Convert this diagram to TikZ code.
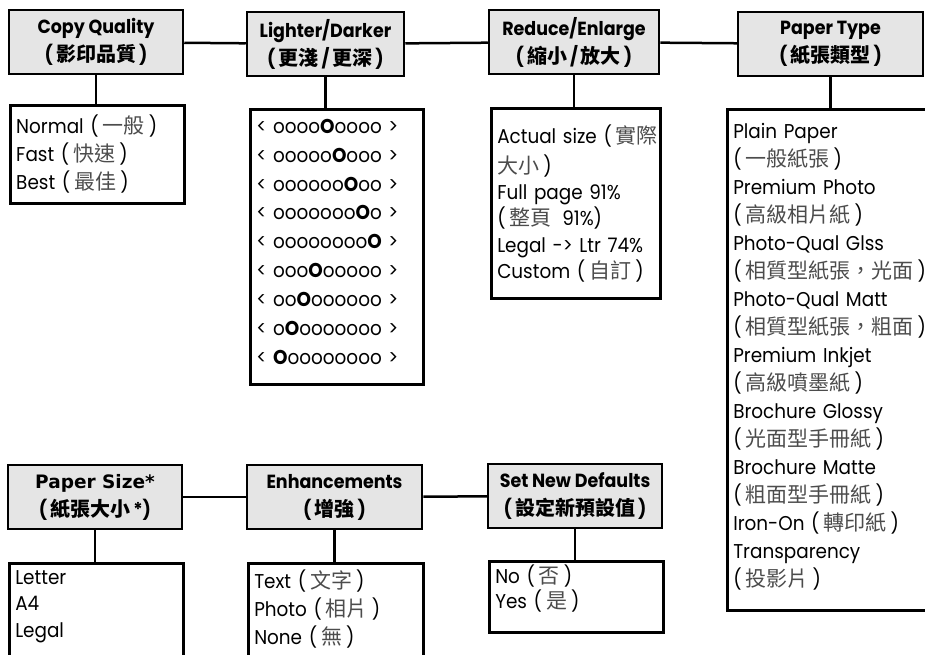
\documentclass[tikz,border=0pt]{standalone}
\usepackage{fontspec}
\setmainfont{Poppins}[FakeStretch=0.92]
\newfontfamily\cjk{Noto Sans CJK TC}
\newfontfamily\altbold{DejaVu Sans}
\usetikzlibrary{positioning}
\definecolor{headfill}{gray}{0.9}
\definecolor{zhgray}{gray}{0.3}
\newcommand{\zh}[1]{{\kern3pt\cjk\fontsize{20}{20}\selectfont #1\kern3pt}}
\newcommand{\zhl}[1]{{\kern4pt\cjk\fontsize{21}{21}\selectfont\color{zhgray}#1\kern4pt}}
\newcommand{\bigO}{{\bfseries O}}
\tikzset{
  headbox/.style={draw, line width=2.5pt, fill=headfill, minimum width=#1,
    minimum height=64pt, align=center, inner sep=0pt,
    font=\fontsize{19}{28}\selectfont\bfseries},
  listbox/.style={draw, line width=2.5pt, anchor=north west, align=left,
    text width=#1, inner xsep=6pt, inner ysep=0pt},
  link/.style={line width=2.5pt}
}
\begin{document}
\begin{tikzpicture}[x=1pt, y=-1pt]
  \useasboundingbox (0,0) rectangle (925,654);
  % Top row of menu headings
  \node[headbox=174pt] (cq) at (96,42) {Copy Quality\\(\zh{影印品質})};
  \node[headbox=157pt] (ld) at (325.5,44) {Lighter/Darker\\(\zh{更淺}/\zh{更深})};
  \node[headbox=170pt] (re) at (574,42) {Reduce/Enlarge\\(\zh{縮小}/\zh{放大})};
  \node[headbox=185pt] (pt) at (830.5,44) {Paper Type\\(\zh{紙張類型})};
  % Bottom row of menu headings
  \node[headbox=174pt] (ps) at (95,497)
    {{\altbold\fontsize{18.5}{28}\selectfont Paper Size*}\\(\zh{紙張大小}*)};
  \node[headbox=175pt] (en) at (334.5,497) {Enhancements\\(\zh{增強})};
  \node[headbox=174pt] (sd) at (575,496) {Set New Defaults\\(\zh{設定新預設值})};
  % Option lists
  \node[listbox=162pt, text height=28pt, text depth=70pt,
    font=\fontsize{20}{28}\selectfont] (cqlist) at (9,104)
    {Normal (\zhl{一般})\\Fast (\zhl{快速})\\Best (\zhl{最佳})};
  \node[listbox=161pt, text height=24pt, text depth=251pt,
    font=\fontsize{20}{28.9}\selectfont] (ldlist) at (249,108)
    {< oooo\bigO oooo >\\< ooooo\bigO ooo >\\< oooooo\bigO oo >\\
     < ooooooo\bigO o >\\< oooooooo\bigO{} >\\< ooo\bigO ooooo >\\
     < oo\bigO oooooo >\\< o\bigO ooooooo >\\< \bigO oooooooo >};
  \node[listbox=157pt, text height=35pt, text depth=155pt,
    font=\fontsize{20}{26.2}\selectfont] (relist) at (490,107)
    {\mbox{Actual size (\zhl{實際}}\\\zhl{大小})\\Full page 91\%\\(\zhl{整頁} 91\%)\\
     Legal -> Ltr 74\%\\Custom (\zhl{自訂})};
  \node[listbox=240pt, text height=29pt, text depth=472pt,
    font=\fontsize{20}{28}\selectfont] (ptlist) at (726,108)
    {Plain Paper\\(\zhl{一般紙張})\\Premium Photo\\(\zhl{高級相片紙})\\
     Photo-Qual Glss\\(\zhl{相質型紙張，光面})\\Photo-Qual Matt\\(\zhl{相質型紙張，粗面})\\
     Premium Inkjet\\(\zhl{高級噴墨紙})\\Brochure Glossy\\(\zhl{光面型手冊紙})\\
     Brochure Matte\\(\zhl{粗面型手冊紙})\\Iron-On (\zhl{轉印紙})\\
     Transparency\\(\zhl{投影片})};
  \node[listbox=162pt, text height=21pt, text depth=100pt,
    font=\fontsize{20}{26.5}\selectfont] (pslist) at (8,562)
    {Letter\\A4\\Legal};
  \node[listbox=163pt, text height=25pt, text depth=100pt,
    font=\fontsize{20}{28}\selectfont] (enlist) at (247,562)
    {Text (\zhl{文字})\\Photo (\zhl{相片})\\None (\zhl{無})};
  \node[listbox=162pt, text height=22pt, text depth=49pt,
    font=\fontsize{20}{25}\selectfont] (sdlist) at (488,560)
    {No (\zhl{否})\\Yes (\zhl{是})};
  % Links between headings
  \draw[link] (cq) -- (ld);
  \draw[link] (ld) -- (re);
  \draw[link] (re) -- (pt);
  \draw[link] (ps) -- (en);
  \draw[link] (en) -- (sd);
  % Stems from headings down to lists
  \foreach \h in {cq, ld, re, pt, ps, en, sd}
    \draw[link] (\h) -- (\h |- \h list.north);
\end{tikzpicture}
\end{document}
